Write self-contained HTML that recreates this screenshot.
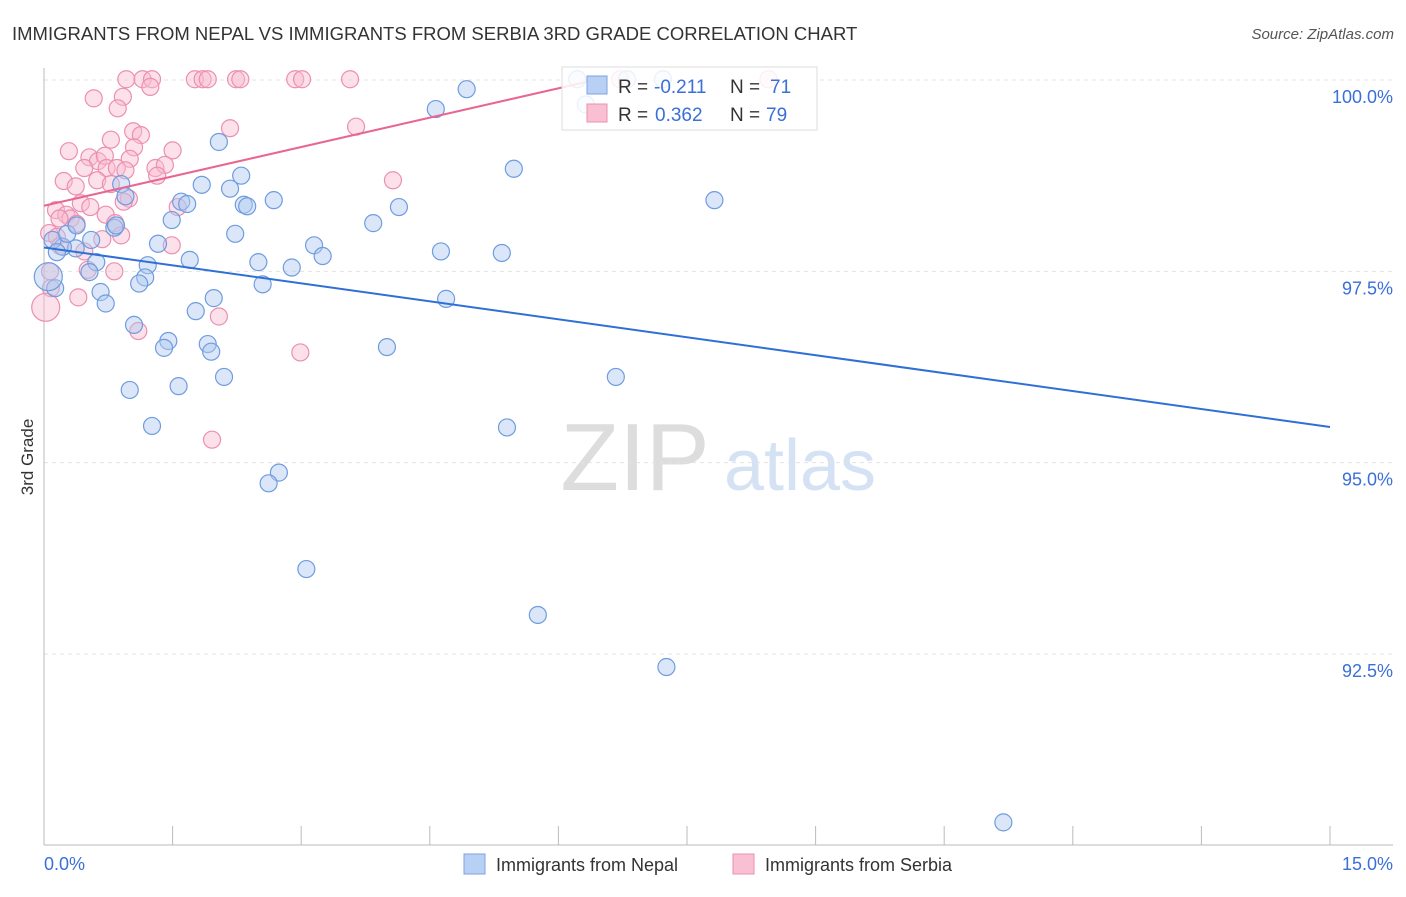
<!DOCTYPE html>
<html><head><meta charset="utf-8"><style>
body{margin:0;background:#fff;font-family:"Liberation Sans",sans-serif}
svg text{font-family:"Liberation Sans",sans-serif}
</style></head><body>
<svg width="1406" height="892" id="chart">
<text x="12" y="40" font-size="18.5" fill="#333">IMMIGRANTS FROM NEPAL VS IMMIGRANTS FROM SERBIA 3RD GRADE CORRELATION CHART</text>
<text x="1394" y="39" font-size="15" fill="#555" text-anchor="end" font-style="italic">Source: ZipAtlas.com</text>
<text x="33" y="457" font-size="17" fill="#333" text-anchor="middle" transform="rotate(-90 33 457)">3rd Grade</text>
<g><text x="635" y="490" font-size="96" fill="#ddd" font-family="Liberation Serif" text-anchor="middle">ZIP</text><text x="800" y="490" font-size="72" fill="#d4e2f4" text-anchor="middle">atlas</text></g>
<g id="grid"></g><g id="pts"></g><g id="lines"></g>
<g>
<rect x="562" y="67" width="255" height="63" fill="#fff" fill-opacity="0.85" stroke="#ddd"/>
<rect x="587" y="76" width="20" height="18" fill="#b8d0f4" stroke="#7aa4e0"/>
<rect x="587" y="104" width="20" height="18" fill="#f8c0d2" stroke="#ec8fb0"/>
<text x="618" y="93" font-size="19" fill="#333">R =</text>
<text x="654" y="93" font-size="19" fill="#3a6fd8">-0.211</text>
<text x="730" y="93" font-size="19" fill="#333">N =</text>
<text x="770" y="93" font-size="19" fill="#3a6fd8">71</text>
<text x="618" y="121" font-size="19" fill="#333">R =</text>
<text x="655" y="121" font-size="19" fill="#3a6fd8">0.362</text>
<text x="730" y="121" font-size="19" fill="#333">N =</text>
<text x="766" y="121" font-size="19" fill="#3a6fd8">79</text>
</g>
<g>
<rect x="464" y="854" width="21" height="20" fill="#b8d0f4" stroke="#7aa4e0"/>
<text x="496" y="871" font-size="18" fill="#333">Immigrants from Nepal</text>
<rect x="733" y="854" width="21" height="20" fill="#f8c0d2" stroke="#ec8fb0"/>
<text x="765" y="871" font-size="18" fill="#333">Immigrants from Serbia</text>
</g>
</svg>
<script>
const xTickLabels=["0.0%","15.0%"];
const yTicks=[100,97.5,95,92.5];
const yTickLabels=["100.0%","97.5%","95.0%","92.5%"];
const nepalX=[6.22,7.22,6.80,6.32,4.57,4.93,5.48,7.82,2.04,2.30,2.17,1.84,1.60,1.67,1.49,2.33,2.37,2.68,4.14,3.84,2.23,1.33,3.15,3.25,2.50,2.89,1.70,1.21,1.18,1.11,0.90,0.95,0.82,0.84,0.55,0.37,0.22,0.10,0.15,0.13,0.27,0.38,0.61,0.53,0.66,0.72,1.05,1.45,1.40,1.91,1.95,1.98,1.77,2.55,4.63,5.34,4.69,4.00,2.10,1.57,1.00,1.26,6.67,5.40,2.74,2.62,3.06,5.76,7.26,11.19,0.05];
const nepalY=[100.01,100.01,100.01,99.68,99.62,99.88,98.84,98.43,99.19,98.75,98.58,98.63,98.41,98.38,98.17,98.37,98.35,98.43,98.34,98.13,97.99,97.86,97.84,97.70,97.62,97.55,97.65,97.58,97.42,97.34,98.64,98.48,98.07,98.10,97.91,97.80,97.82,97.91,97.75,97.28,97.99,98.10,97.62,97.49,97.23,97.08,96.80,96.59,96.50,96.55,96.45,97.15,96.98,97.33,97.76,97.74,97.14,96.51,96.12,96.00,95.95,95.48,96.12,95.46,94.87,94.73,93.61,93.01,92.33,90.30,97.43];
const serbiaX=[0.96,1.15,1.26,1.24,1.76,1.85,1.91,2.24,2.29,2.93,3.01,3.57,6.72,8.45,0.58,0.92,0.86,2.17,3.64,1.04,1.13,0.78,0.29,1.50,1.05,0.53,0.63,0.71,1.00,0.47,0.73,0.85,0.95,1.30,1.41,1.32,4.07,0.23,0.37,0.62,0.78,0.99,0.93,0.43,0.54,0.14,0.26,0.31,0.18,0.38,0.72,0.83,0.06,0.15,0.19,0.90,0.68,0.47,0.51,0.82,1.56,1.49,0.08,0.40,1.10,2.04,2.99,1.96,0.02,0.07];
const serbiaY=[100.01,100.01,100.01,99.91,100.01,100.01,100.01,100.01,100.01,100.01,100.01,100.01,100.01,100.01,99.76,99.78,99.63,99.37,99.39,99.33,99.28,99.22,99.07,99.08,99.12,98.99,98.94,99.01,98.97,98.85,98.85,98.85,98.82,98.85,98.89,98.75,98.69,98.68,98.61,98.69,98.64,98.45,98.41,98.39,98.34,98.30,98.24,98.19,98.19,98.12,98.24,98.13,98.00,97.95,97.83,97.97,97.92,97.76,97.52,97.50,98.34,97.84,97.28,97.16,96.72,96.91,96.44,95.30,97.03,97.50];
const nepalBig=[70], serbiaBig=[68];
const X0=44,X1=1330,Y100=80,Y925=654;
const sx=v=>X0+(X1-X0)*v/15;
const sy=v=>Y100+(100-v)*(Y925-Y100)/7.5;
const NS="http://www.w3.org/2000/svg";
function mk(t,a,p){const e=document.createElementNS(NS,t);for(const k in a)e.setAttribute(k,a[k]);p.appendChild(e);return e;}
const grid=document.getElementById('grid');
yTicks.forEach((t,i)=>{
 const l=mk('line',{x1:44,x2:1393,y1:sy(t),y2:sy(t),stroke:'#e3e3e3','stroke-dasharray':'4,4'},grid);
 
 
 const tx=mk('text',{x:1393,y:sy(t)+23,'font-size':18,fill:'#3a6fd8','text-anchor':'end'},grid);
 tx.textContent=yTickLabels[i];
 
 
});
const ax=mk('line',{x1:44,x2:44,y1:68,y2:845,stroke:'#bbb'},grid);


const bx=mk('line',{x1:44,x2:1393,y1:845,y2:845,stroke:'#bbb'},grid);


for(let i=0;i<=10;i++){const t=mk('line',{x1:sx(i*1.5),x2:sx(i*1.5),y1:826,y2:845,stroke:'#bbb'},grid);
 
 }
[[0,44,'start'],[15,1393,'end']].forEach((a,i)=>{const t=mk('text',{x:a[1],y:870,'font-size':18,fill:'#3a6fd8','text-anchor':a[2]},grid);t.textContent=xTickLabels[i];
 
 });
const pts=document.getElementById('pts');
function draw(xs,ys,big,fill,stroke,name){xs.forEach((x,i)=>{const c=mk('circle',{cx:sx(x),cy:sy(ys[i]),r:big.includes(i)?14:8.5,fill:fill,'fill-opacity':0.45,stroke:stroke,'stroke-width':1.2},pts);
 
 });}
draw(serbiaX,serbiaY,serbiaBig,'#f8bcd0','#ec8fb0','serbia-point');
draw(nepalX,nepalY,nepalBig,'#b0c9f0','#6f9ce0','nepal-point');
function fit(xs,ys){const n=xs.length;let mx=0,my=0;xs.forEach((v,i)=>{mx+=v;my+=ys[i]});mx/=n;my/=n;let sxy=0,sxx=0;xs.forEach((v,i)=>{sxy+=(v-mx)*(ys[i]-my);sxx+=(v-mx)**2});const b=sxy/sxx;return [my-b*mx,b];}
const lines=document.getElementById('lines');
const [a1,b1]=fit(nepalX,nepalY);
const l1=mk('line',{x1:sx(0),y1:sy(a1),x2:sx(15),y2:sy(a1+b1*15),stroke:'#2f6fd6','stroke-width':2},lines);


const [a2,b2]=fit(serbiaX,serbiaY);
const xe=Math.min(15,(100-a2)/b2);
const l2=mk('line',{x1:sx(0),y1:sy(a2),x2:sx(xe),y2:sy(a2+b2*xe),stroke:'#e8668f','stroke-width':2},lines);


</script>
</body></html>
